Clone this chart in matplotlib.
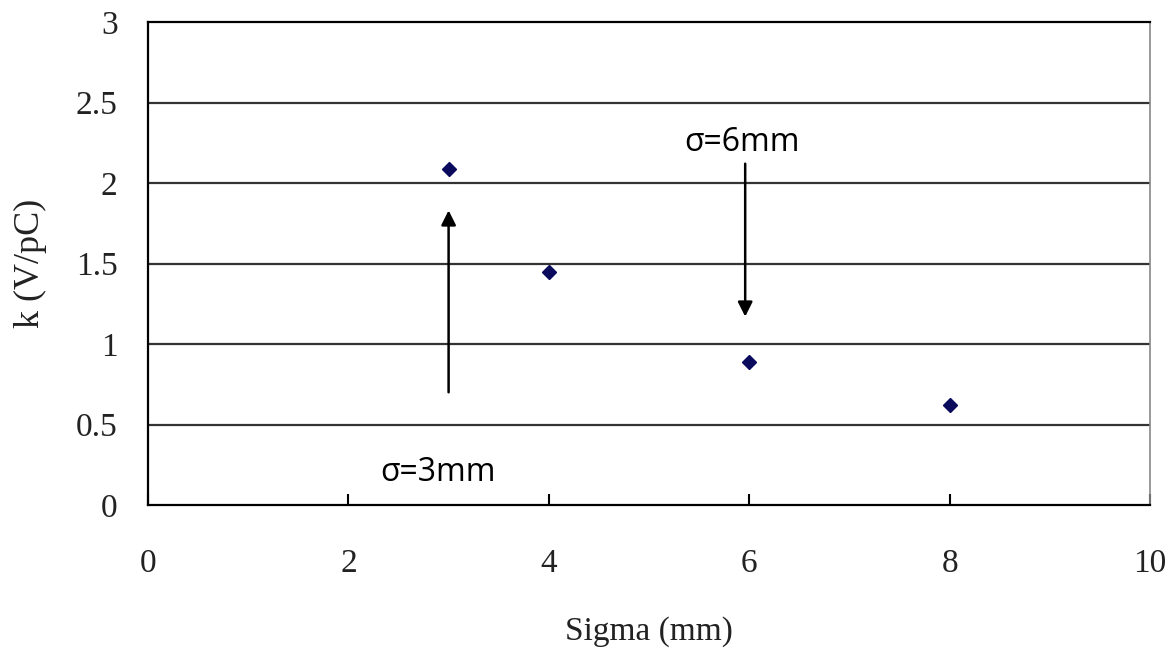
import matplotlib
matplotlib.use('Agg')
import matplotlib.pyplot as plt

# data
sigma = [3, 4, 6, 8]
k_vals = [2.09, 1.45, 0.89, 0.62]
x_ticks = [0, 2, 4, 6, 8, 10]
y_ticks = [0, 0.5, 1, 1.5, 2, 2.5, 3]
y_tick_labels = ['0', '0.5', '1', '1.5', '2', '2.5', '3']

fig = plt.figure(figsize=(11.74, 6.52), dpi=100)
ax = fig.add_axes([148 / 1174, 1 - 505 / 652, 1002 / 1174, 483 / 652])

ax.plot(sigma, k_vals, linestyle='none', marker='D', markersize=7.5,
        color='#0b0b5e', zorder=5)

ax.set_xlim(0, 10)
ax.set_ylim(0, 3)
ax.set_xticks(x_ticks)
ax.set_yticks(y_ticks)
ax.set_yticklabels(y_tick_labels)

for lab in ax.get_xticklabels() + ax.get_yticklabels():
    lab.set_fontfamily('Liberation Serif')
    lab.set_fontsize(24)
    lab.set_color('#222222')

ax.tick_params(axis='x', direction='in', length=8, width=1.5, pad=31, color='black')
ax.tick_params(axis='y', length=0, pad=22)

# horizontal gridlines
for yv in y_ticks[1:-1]:
    ax.axhline(yv, color='#333333', lw=1.6, zorder=1)

for side in ['left', 'bottom', 'top']:
    ax.spines[side].set_color('black')
    ax.spines[side].set_linewidth(1.6)
ax.spines['right'].set_color('#888888')
ax.spines['right'].set_linewidth(1.2)

ax.set_xlabel('Sigma (mm)', fontfamily='Liberation Serif', fontsize=24, color='#222222')
ax.set_ylabel('k (V/pC)', fontfamily='Liberation Serif', fontsize=26, color='#222222')
ax.xaxis.set_label_coords(0.5, -0.263)
ax.yaxis.set_label_coords(-0.117, 0.5)
ax.xaxis.label.set_va('center')
ax.yaxis.label.set_va('center')

arrow = dict(arrowstyle='-|>', lw=1.8, color='black', mutation_scale=22,
             shrinkA=0, shrinkB=0)
ax.annotate('', xy=(3.0, 1.83), xytext=(3.0, 0.70), arrowprops=arrow)
ax.annotate('', xy=(5.96, 1.17), xytext=(5.96, 2.12), arrowprops=arrow)

ax.text(5.93, 2.25, 'σ=6mm', fontfamily='Open Sans', fontsize=23,
        ha='center', va='center')
ax.text(2.89, 0.2, 'σ=3mm', fontfamily='Open Sans', fontsize=23,
        ha='center', va='center')

fig.savefig('out.png', dpi=100)
